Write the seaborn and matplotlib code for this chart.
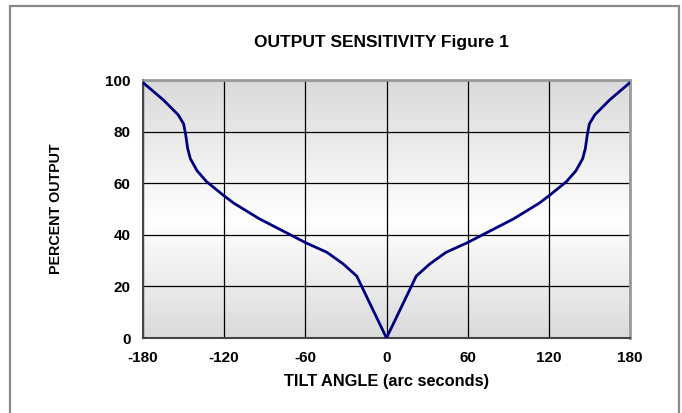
import matplotlib
matplotlib.use("Agg")
import matplotlib.pyplot as plt
from matplotlib.patches import Rectangle
import numpy as np
import pandas as pd
import seaborn as sns

TILT_ANGLE = [-180, -165, -154, -150, -148.5, -147, -145, -140, -133, -121, -113, -94, -74, -60, -44, -32,
              -22, -11, 0, 11, 22, 32, 44, 60, 74, 94, 113, 121, 133, 140, 145, 147, 148.5, 150, 154, 165, 180]
PERCENT_OUTPUT = [99, 92.3, 86.5, 83, 79, 73.5, 69.5, 64.8, 60.6, 55.5, 52.3, 46.2, 40.8, 37, 33.2, 28.7,
                  24, 12, 0, 12, 24, 28.7, 33.2, 37, 40.8, 46.2, 52.3, 55.5, 60.6, 64.8, 69.5, 73.5, 79, 83,
                  86.5, 92.3, 99]
X_TICKS = [-180, -120, -60, 0, 60, 120, 180]
Y_TICKS = [0, 20, 40, 60, 80, 100]

sns.set_style("white")
plt.rcParams["font.family"] = ["Liberation Sans", "DejaVu Sans"]
plt.rcParams["font.weight"] = "bold"
plt.rcParams["axes.unicode_minus"] = False
plt.rcParams["text.color"] = "black"
plt.rcParams["axes.labelcolor"] = "black"
plt.rcParams["xtick.color"] = "black"
plt.rcParams["ytick.color"] = "black"

df = pd.DataFrame({"tilt": TILT_ANGLE, "output": PERCENT_OUTPUT})

fig = plt.figure(figsize=(6.82, 4.13), dpi=100)
fig.patch.set_facecolor("white")
fig.patches.append(Rectangle((10 / 682, -0.05), 669 / 682, 1.05 - 6 / 413,
                             transform=fig.transFigure, fill=False,
                             edgecolor="#8a8a8a", linewidth=1.6))

ax = fig.add_axes([143 / 682, 1 - 338 / 413, 487 / 682, 258 / 413])

# vertical gray-white-gray gradient background
yy = np.linspace(0, 1, 256)
shade = np.where(yy < 0.45, yy / 0.45, (1 - yy) / 0.55)
grey = 0.855 + (1 - 0.855) * shade
img = np.repeat(np.stack([grey, grey, grey], axis=-1)[:, None, :], 2, axis=1)
ax.imshow(img, extent=[-180, 180, 0, 100], origin="lower", aspect="auto", zorder=0)

sns.lineplot(data=df, x="tilt", y="output", ax=ax, color="#000080", linewidth=2, zorder=3)

ax.set_xlim(-180, 180)
ax.set_ylim(0, 100)
ax.set_xticks(X_TICKS)
ax.set_yticks(Y_TICKS)
ax.grid(True, color="black", linewidth=0.9, zorder=1)
for line in ax.get_xgridlines() + ax.get_ygridlines():
    line.set_zorder(1)

ax.tick_params(axis="both", direction="out", length=4, width=1, color="black",
               labelcolor="black", labelsize=11, pad=5)
for lab in ax.get_xticklabels() + ax.get_yticklabels():
    lab.set_fontweight("bold")

ax.spines["left"].set_color("#444444")
ax.spines["bottom"].set_color("#444444")
ax.spines["left"].set_linewidth(1.5)
ax.spines["bottom"].set_linewidth(1.5)
ax.spines["top"].set_color("#9a9a9a")
ax.spines["right"].set_color("#9a9a9a")
ax.spines["top"].set_linewidth(2)
ax.spines["right"].set_linewidth(2)

ax.set_xlabel("TILT ANGLE (arc seconds)", fontsize=11.8, fontweight="bold", labelpad=7)
ax.set_ylabel("PERCENT OUTPUT", fontsize=10.3, fontweight="bold", labelpad=30)
fig.text(0.56, 1 - 42 / 413, "OUTPUT SENSITIVITY Figure 1", ha="center", va="center",
         fontsize=12.5, fontweight="bold")

fig.savefig("out.png", dpi=100)
